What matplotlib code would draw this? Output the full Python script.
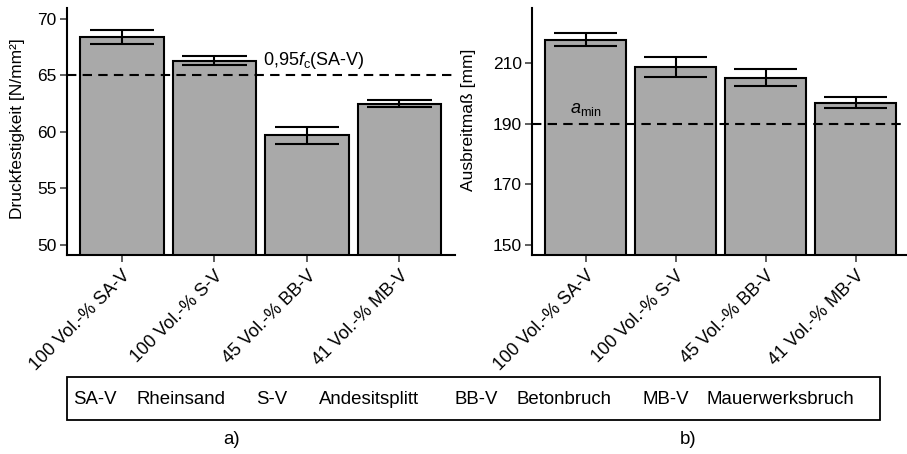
import matplotlib
matplotlib.use("Agg")
import matplotlib.pyplot as plt
from matplotlib.patches import Rectangle

plt.rcParams["font.family"] = ["Liberation Sans", "DejaVu Sans"]
plt.rcParams["mathtext.fontset"] = "custom"
plt.rcParams["mathtext.rm"] = "Liberation Sans"
plt.rcParams["mathtext.it"] = "Liberation Sans:italic"

# Mixtures
categories = ["100 Vol.-% SA-V", "100 Vol.-% S-V", "45 Vol.-% BB-V", "41 Vol.-% MB-V"]

# a) compressive strength [N/mm²]
strength_mean = [68.4, 66.3, 59.7, 62.5]
strength_err = [0.6, 0.4, 0.75, 0.3]
strength_ref = 65.0
strength_ticks = [50, 55, 60, 65, 70]

# b) flow table spread [mm]
spread_mean = [217.8, 208.7, 205.2, 197.0]
spread_err = [2.2, 3.2, 2.85, 1.8]
spread_ref = 190.0
spread_ticks = [150, 170, 190, 210]

legend_items = [("SA-V", "Rheinsand"), ("S-V", "Andesitsplitt"),
                ("BB-V", "Betonbruch"), ("MB-V", "Mauerwerksbruch")]

W, H = 907, 454
fig = plt.figure(figsize=(W / 100, H / 100), dpi=100)

ax_a = fig.add_axes([66.5 / W, 1 - 255 / H, 388.5 / W, 247.5 / H])
ax_b = fig.add_axes([531.5 / W, 1 - 255 / H, 378 / W, 247.5 / H])

BAR = "#a9a9a9"
LW = 1.5
FS = 12.5


def panel(ax, means, errs, ref, ticks, ylim, ylabel, label_xy):
    x = list(range(len(categories)))
    ax.bar(x, means, width=0.9, color=BAR, edgecolor="black", linewidth=LW, zorder=2)
    for xi, m, e in zip(x, means, errs):
        ax.vlines(xi, m - e, m + e, color="black", linewidth=LW, zorder=3)
        ax.hlines([m - e, m + e], xi - 0.35, xi + 0.35, color="black", linewidth=LW, zorder=3)
    ax.axhline(ref, color="black", linewidth=LW, linestyle=(0, (4.5, 3)), zorder=4)
    ax.set_xlim(-0.6, 3.6)
    ax.set_ylim(*ylim)
    ax.set_yticks(ticks)
    ax.set_xticks(x)
    ax.set_xticklabels(categories, rotation=45, ha="right", va="top",
                       rotation_mode="anchor", fontsize=13)
    ax.tick_params(axis="both", length=5, width=1.1, color="#333333",
                   labelcolor="black")
    ax.tick_params(axis="y", pad=2, labelsize=FS)
    ax.tick_params(axis="x", pad=4)
    for s in ("top", "right"):
        ax.spines[s].set_visible(False)
    for s in ("left", "bottom"):
        ax.spines[s].set_linewidth(LW)
    ax.set_ylabel(ylabel, fontsize=FS)
    ax.yaxis.set_label_coords(*label_xy)
    ax.patch.set_alpha(0)


panel(ax_a, strength_mean, strength_err, strength_ref, strength_ticks,
      (49.11, 71.0), "Druckfestigkeit [N/mm²]", (-0.106, 0.51))
panel(ax_b, spread_mean, spread_err, spread_ref, spread_ticks,
      (146.7, 228.4), "Ausbreitmaß [mm]", (-0.146, 0.545))

ax_a.text(1.52, 66.3, r"0,95$f_\mathrm{c}$(SA-V)", ha="left", va="center", fontsize=13)
ax_b.text(0.0, 194.7, r"$a_\mathrm{min}$", ha="center", va="center", fontsize=13)

# material key below both panels
fig.patches.append(Rectangle((67 / W, 1 - 420 / H), 813 / W, 43 / H,
                             transform=fig.transFigure, fill=False,
                             edgecolor="black", linewidth=1.3))
key_x = [73, 137, 256, 319, 454, 517, 643, 707]
labels = [t for pair in legend_items for t in pair]
for px, t in zip(key_x, labels):
    fig.text(px / W, 1 - 400 / H, t, ha="left", va="center", fontsize=13.4)

fig.text(232 / W, 1 - 440 / H, "a)", ha="center", va="center", fontsize=13.4)
fig.text(688 / W, 1 - 440 / H, "b)", ha="center", va="center", fontsize=13.4)

fig.savefig("out.png", dpi=100)
